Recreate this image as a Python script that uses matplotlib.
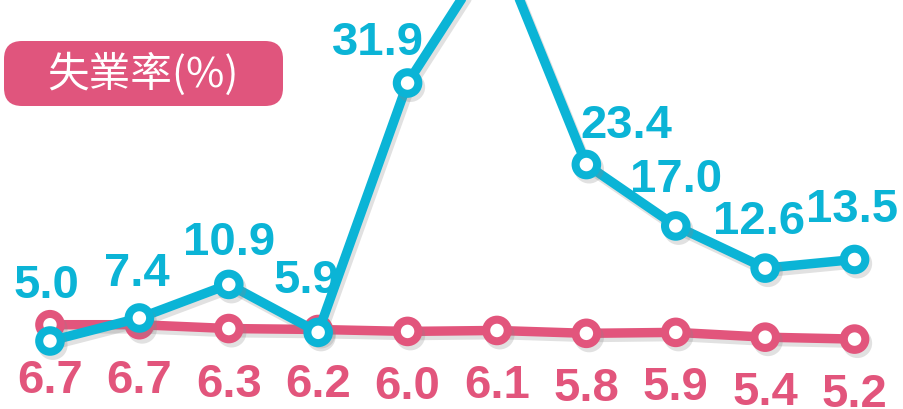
import matplotlib
matplotlib.use('Agg')
from matplotlib import pyplot as plt
from matplotlib import patheffects as pe
from matplotlib.patches import FancyBboxPatch

# data (peak value is off the top, estimated)
months = list(range(10))
unemployment_a = [5.0, 7.4, 10.9, 5.9, 31.9, 46.4, 23.4, 17.0, 12.6, 13.5]
unemployment_b = [6.7, 6.7, 6.3, 6.2, 6.0, 6.1, 5.8, 5.9, 5.4, 5.2]
label_a = ['5.0', '7.4', '10.9', '5.9', '31.9', '', '23.4', '17.0', '12.6', '13.5']
label_b = ['6.7', '6.7', '6.3', '6.2', '6.0', '6.1', '5.8', '5.9', '5.4', '5.2']
title_text = '失業率(%)'

CYAN = '#0BB4D6'
PINK = '#E2557C'

fig = plt.figure(figsize=(9.04, 4.10), dpi=100)
ax = fig.add_axes([0, 0, 1, 1])
ax.set_xlim(-0.559, 9.553)
ax.set_ylim(-2.09, 40.66)
ax.axis('off')

shadow = [pe.SimpleLineShadow(offset=(2, -3), shadow_color='#888888', alpha=0.25), pe.Normal()]

def draw_series(values, color, z):
    ax.plot(months, values, color=color, lw=6.8, marker='o', ms=15.5,
            mew=5.8, mfc='white', mec=color, zorder=z, path_effects=shadow,
            solid_capstyle='round', clip_on=False)

draw_series(unemployment_b, PINK, 2)
draw_series(unemployment_a, CYAN, 3)

# label tweaks so the texts do not sit on the steep line
ha_a = ['center', 'center', 'center', 'center', 'right', 'center', 'left', 'center', 'center', 'center']
dx_a = [-4, -3, 0, -12, 16, 0, -6, 0, -6, -2]
dy_a = [44, 33, 30, 40, 29, 30, 28, 35, 35, 38]

text_style = dict(fontsize=34, fontweight='bold', family='Liberation Sans')

for x, y, s, ha, dx, dy in zip(months, unemployment_a, label_a, ha_a, dx_a, dy_a):
    ax.annotate(s, (x, y), xytext=(dx, dy), textcoords='offset pixels',
                ha=ha, va='baseline', color=CYAN, zorder=5, **text_style)

for x, y, s in zip(months, unemployment_b, label_b):
    ax.annotate(s, (x, y), xytext=(0, -33), textcoords='offset pixels',
                ha='center', va='top', color=PINK, zorder=5, **text_style)

# title badge, drawn in its own pixel-sized axes
bx = fig.add_axes([4 / 904, 1 - 107 / 410, 279 / 904, 65 / 410])
bx.set_xlim(0, 279)
bx.set_ylim(0, 65)
bx.axis('off')
bx.add_patch(FancyBboxPatch((0, 0), 279, 65, boxstyle='round,pad=0,rounding_size=18',
                            fc='#E0557D', ec='none'))
bx.text(139, 33, title_text, color='white', fontsize=30, ha='center', va='center',
        family=['Noto Sans CJK TC', 'DejaVu Sans'])

fig.savefig('out.png', dpi=100)
